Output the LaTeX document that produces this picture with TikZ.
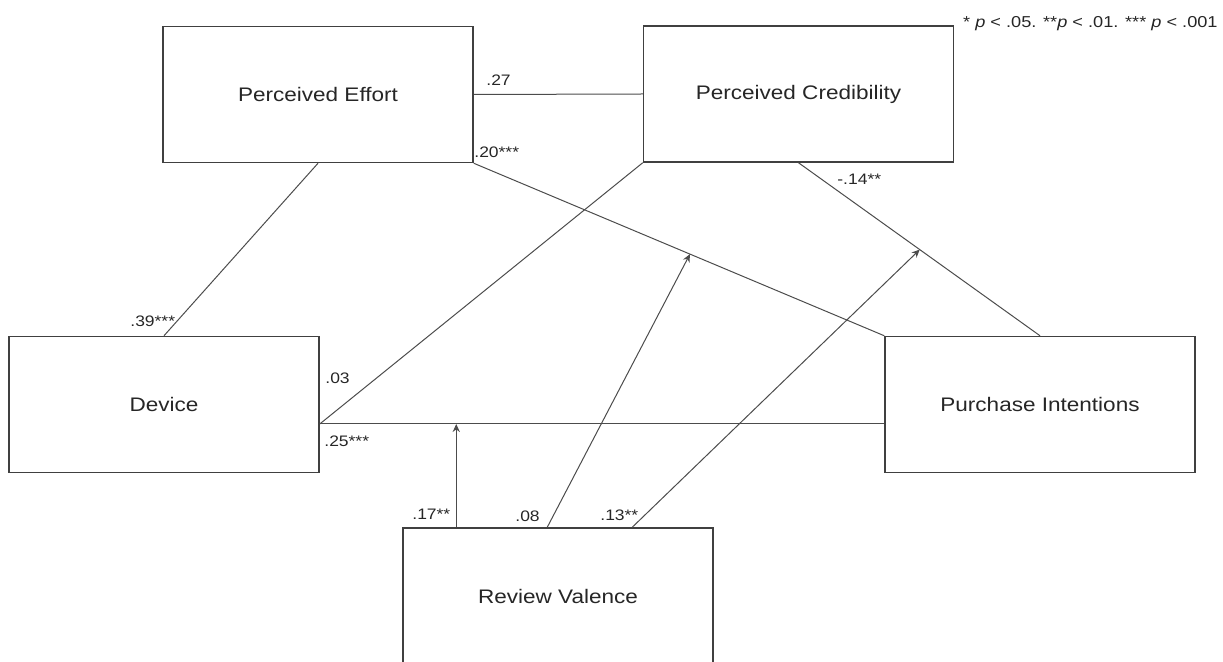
\documentclass[tikz,border=0pt]{standalone}
\usepackage{fontspec}
\setmainfont[FakeStretch=1.15]{Liberation Sans}
\usetikzlibrary{arrows.meta,calc}
\begin{document}
\begin{tikzpicture}[x=0.5pt,y=-0.5pt,
  box/.style={draw=black!75,line width=0.75pt,minimum width=155pt,minimum height=68pt,inner sep=0pt,font=\fontsize{9.8}{12}\selectfont,text=black!85},
  conn/.style={draw=black!70,line width=0.5pt},
  arr/.style={conn,-{Stealth[length=4pt,width=3.6pt]}},
  lab/.style={inner sep=0pt,anchor=base west,font=\fontsize{7.6}{9}\selectfont,text=black!85}]
\useasboundingbox (0,0) rectangle (1223,662);
\clip (0,0) rectangle (1223,662);
\node[box] (Effort) at (318,94.5) {Perceived Effort};
\node[box] (Cred) at (798.5,94) {Perceived Credibility};
\node[box] (Device) at (164,404.5) {Device};
\node[box] (Purchase) at (1040,404.5) {Purchase Intentions};
\node[box] (Review) at (558,596) {Review Valence};
\coordinate (dpy) at (0,424);
% connectors
\draw[conn] (Effort.east) -- (Cred.west);
\draw[conn] (Effort.south) -- (Device.north);
\draw[conn] (Effort.south east) -- (Purchase.north west);
\draw[conn] (Cred.south west) -- (Device.east |- dpy);
\draw[conn] (Cred.south) -- (Purchase.north);
\draw[conn] (Device.east |- dpy) -- (Purchase.west |- dpy);
\coordinate (r1) at ($(Review.north west)+(54,0)$);
\coordinate (r2) at ($(Review.north west)+(145,0)$);
\coordinate (r3) at ($(Review.north west)+(230,0)$);
\draw[arr] (r1) -- (r1 |- dpy);
\draw[arr] (r2) -- ($(Effort.south east)!0.5267!(Purchase.north west)$);
\draw[arr] (r3) -- ($(Cred.south)!0.502!(Purchase.north)$);
% labels
\node[lab] (l27) at (486,86) {.27};
\node[lab] (l20) at (474,158) {.20***};
\node[lab] (l14) at (837,185) {-.14**};
\node[lab] (l39) at (130,327) {.39***};
\node[lab] (l03) at (325,384) {.03};
\node[lab] (l25) at (324,447) {.25***};
\node[lab] (l17) at (412,520) {.17**};
\node[lab] (l08) at (515,522) {.08};
\node[lab] (l13) at (600,521) {.13**};
\node[inner sep=0pt,anchor=base east,font=\fontsize{7.9}{9}\selectfont,text=black!85] (note) at (1218,28) {* \textit{p} < .05. **\textit{p} < .01. *** \textit{p} < .001};
\end{tikzpicture}
\end{document}
